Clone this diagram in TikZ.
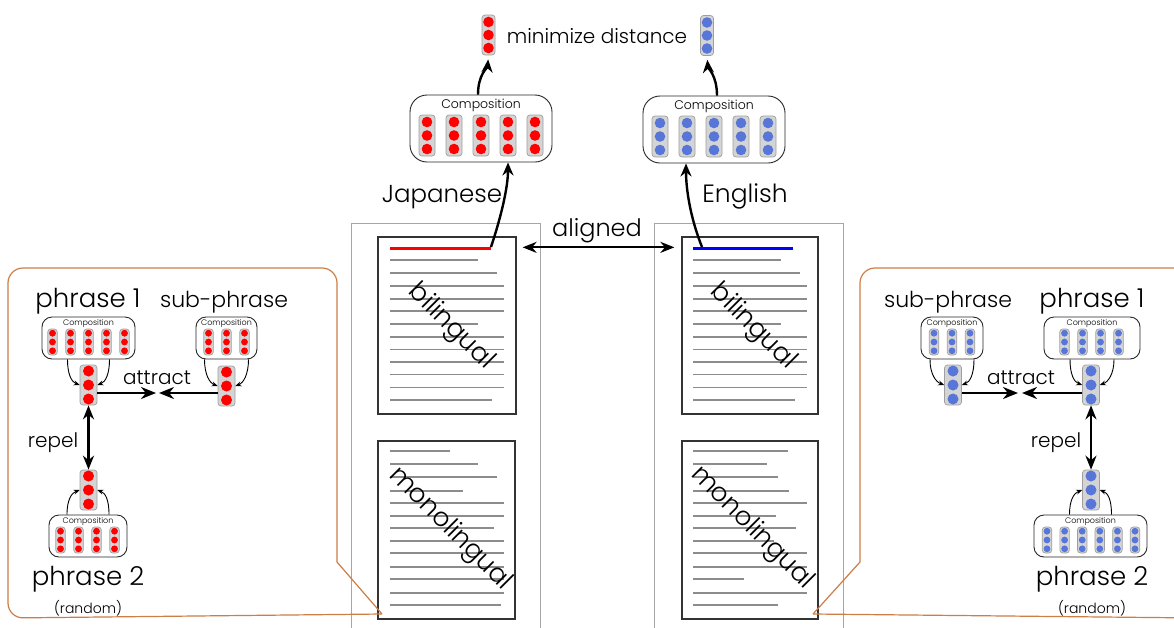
\documentclass[tikz,border=0pt]{standalone}
\usepackage{fontspec}
\setmainfont{Poppins Light}
\usetikzlibrary{arrows.meta,calc}
\definecolor{vred}{RGB}{255,0,0}
\definecolor{vblue}{RGB}{88,118,215}
\definecolor{vgray}{RGB}{212,212,212}
\definecolor{panelorange}{RGB}{205,125,70}
\newcommand{\myfs}[1]{\fontsize{#1}{#1}\selectfont}
% name, x, y, width, height, dot spacing, dot radius, colour
\newcommand{\vvec}[8]{%
  \node[vecbox, minimum width=#4pt, minimum height=#5pt] (#1) at (#2,#3) {};
  \foreach \k in {-1,0,1} \fill[#8] (#2,{#3+\k*#6}) circle (#7pt);
}
\tikzset{
  vecbox/.style={draw=gray!75, fill=vgray, rounded corners=3pt, inner sep=0pt, line width=0.7pt},
  compbox/.style={draw=black!85, fill=white, line width=0.9pt, inner sep=0pt},
  docbox/.style={draw=black!80, line width=1.3pt, inner sep=0pt},
  txtline/.style={draw=gray!90, line width=1.6pt},
  panelgray/.style={draw=gray!70, line width=0.8pt},
  panelline/.style={draw=panelorange, line width=1.2pt},
  thickarrow/.style={-{Stealth[length=13pt,width=11pt]}, line width=2.4pt},
  dblarrow/.style={{Stealth[length=14pt,width=11pt]}-{Stealth[length=14pt,width=11pt]}, line width=2.6pt},
  thinarrow/.style={-{Stealth[length=6pt,width=5pt]}, line width=0.9pt},
  lbl/.style={inner sep=0pt, anchor=base},
}
\begin{document}
\begin{tikzpicture}[x=1pt,y=-1pt]
\useasboundingbox (0,0) rectangle (1174,627);
\fill[white] (0,0) rectangle (1174,627);

% ---------- gray document panels ----------
\draw[panelgray] (351,640) -- (351,223) -- (540,223) -- (540,640);
\draw[panelgray] (654,640) -- (654,223) -- (843,223) -- (843,640);

% ---------- documents ----------
\node[docbox, minimum width=138pt, minimum height=177pt] (bil1) at (447,325.5) {};
\node[docbox, minimum width=137pt, minimum height=178pt] (mono1) at (446.5,530) {};
\node[docbox, minimum width=136pt, minimum height=177pt] (bil2) at (750,325.5) {};
\node[docbox, minimum width=136pt, minimum height=178pt] (mono2) at (750,530) {};

\foreach \y/\e in {260/478,272.7/497,286/504,298.7/504,311/504,323.7/478,336.7/504,349.3/504,361.7/504,374.3/504,387.3/504,400/492}
  \draw[txtline] (390,\y) -- (\e,\y);
\foreach \y/\e in {451/450,464/478,477/497,491/463,503/504,516/504,528/494,541/504,553/504,567/504,579/504,593/504,605/501}
  \draw[txtline] (390,\y) -- (\e,\y);
\foreach \y/\e in {260/781,272.7/800,286/807,298.7/807,311/807,323.7/781,336.7/807,349.3/807,361.7/807,374.3/807,387.3/807,400/795}
  \draw[txtline] (693,\y) -- (\e,\y);
\foreach \y/\e in {451/788,464/767,477/778,491/789,503/807,516/776,528/796,541/774,553/807,567/807,579/744,593/807,605/778}
  \draw[txtline] (693,\y) -- (\e,\y);

\draw[vred, line width=3pt] (390,248) -- (491,248);
\draw[blue, line width=3pt] (693,248) -- (793,248);
\coordinate (jline) at (491,247);
\coordinate (eline) at (702,247);

\node[rotate=-45, font=\myfs{26}, inner sep=0pt] (bt1) at (451,327) {bilingual};
\node[rotate=-45, font=\myfs{26}, inner sep=0pt] (mt1) at (450,529) {monolingual};
\node[rotate=-45, font=\myfs{26}, inner sep=0pt] (bt2) at (753,327) {bilingual};
\node[rotate=-45, font=\myfs{26}, inner sep=0pt] (mt2) at (752,528) {monolingual};

% ---------- top ----------
\vvec{jv}{488.5}{35}{13}{40}{13}{5.3}{vred}
\vvec{ev}{707}{35.5}{13}{40}{13}{5.3}{vblue}
\node[lbl, font=\myfs{20}] (mind) at (597,43) {minimize distance};

\node[compbox, rounded corners=17pt, minimum width=142pt, minimum height=67pt] (jc) at (481,128.5) {};
\node[lbl, font=\myfs{12.5}] (jcl) at (481,108) {Composition};
\foreach \xx in {427,454,481,508,535} {\vvec{}{\xx}{135.5}{16}{41}{13.5}{5.3}{vred}}
\node[compbox, rounded corners=17pt, minimum width=142pt, minimum height=67pt] (ec) at (714,129.5) {};
\node[lbl, font=\myfs{12.5}] (ecl) at (714,109) {Composition};
\foreach \xx in {660,687,714,741,768} {\vvec{}{\xx}{136.5}{16}{41}{13.5}{5.3}{vblue}}

\draw[thickarrow, shorten >=4pt] ([xshift=-3pt]jc.north) .. controls +(0,-20) and +(-1,12) .. (jv.south);
\draw[thickarrow, shorten >=4pt] ([xshift=3pt]ec.north) .. controls +(0,-20) and +(1,12) .. (ev.south);
\draw[thickarrow] (jline) .. controls +(10,-30) and +(0,25) .. ([xshift=27pt]jc.south);
\draw[thickarrow] (eline) .. controls +(-12,-30) and +(0,25) .. ([xshift=-28pt]ec.south);

\node[lbl, font=\myfs{24.5}] (jap) at (442,202) {Japanese};
\node[lbl, font=\myfs{25}] (eng) at (745,202) {English};
\node[lbl, font=\myfs{24}] (ali) at (597,236) {aligned};
\draw[dblarrow, line width=2.2pt] ($(bil1.north east)+(6,11)$) -- ($(bil2.north west)+(-7,11)$);

% ---------- orange callout panels ----------
\draw[panelline] (382,614) -- (337,562) [rounded corners=15pt] -- (337,268) -- (8,268) -- (8,618) [sharp corners] -- (382,614);
\draw[panelline] (813,614) -- (860,562) [rounded corners=15pt] -- (860,268) -- (1200,268);
\draw[panelline] (813,614) -- (1200,618);

% ---------- left panel ----------
\node[lbl, font=\myfs{26}] (lp1) at (88,307) {phrase 1};
\node[lbl, font=\myfs{22}] (lsp) at (224,307) {sub-phrase};
\node[compbox, rounded corners=10pt, minimum width=93pt, minimum height=42pt] (lp1c) at (88.5,338) {};
\node[lbl, font=\myfs{8}] at (88.5,325) {Composition};
\foreach \xx in {52.5,70.5,88.5,106.5,124.5} {\vvec{}{\xx}{342}{9.5}{26}{8.8}{3.4}{vred}}
\node[compbox, rounded corners=10pt, minimum width=61pt, minimum height=42pt] (lspc) at (226.5,338) {};
\node[lbl, font=\myfs{8}] at (226.5,325) {Composition};
\foreach \xx in {208.5,226.5,244.5} {\vvec{}{\xx}{342}{9.5}{26}{8.8}{3.4}{vred}}

\vvec{lp1v}{88.5}{385}{17}{40}{14}{5.5}{vred}
\vvec{lspv}{226.5}{386}{17}{40}{14}{5.5}{vred}
\vvec{lp2v}{88.5}{490}{17}{40}{14}{5.5}{vred}

\draw[thinarrow] ([xshift=-21pt]lp1c.south) .. controls +(0,15) and +(-8,-3) .. (lp1v.west);
\draw[thinarrow] ([xshift=21pt]lp1c.south) .. controls +(0,15) and +(8,-3) .. (lp1v.east);
\draw[thinarrow] ([xshift=-22pt]lspc.south) .. controls +(0,15) and +(-8,-3) .. (lspv.west);
\draw[thinarrow] ([xshift=22pt]lspc.south) .. controls +(0,15) and +(8,-3) .. (lspv.east);

\coordinate (latt1) at (156,393);
\coordinate (latt2) at (159,393);
\draw[thickarrow, -{Stealth[length=15pt,width=12pt]}] (lp1v.east |- latt1) -- (latt1);
\draw[thickarrow, -{Stealth[length=15pt,width=12pt]}] (lspv.west |- latt2) -- (latt2);
\node[lbl, font=\myfs{20}] (latt) at (157,384) {attract};
\draw[dblarrow] (lp1v.south) -- (lp2v.north);
\node[lbl, font=\myfs{20}] (lrep) at (53,447) {repel};

\node[compbox, rounded corners=10pt, minimum width=78pt, minimum height=42pt] (lp2c) at (88,536) {};
\node[lbl, font=\myfs{8}] at (88,523) {Composition};
\foreach \xx in {60.5,78.5,96.5,114.5} {\vvec{}{\xx}{540}{9.5}{26}{8.8}{3.4}{vred}}
\draw[thinarrow] ([xshift=-21pt]lp2c.north) .. controls +(0,-15) and +(-8,3) .. (lp2v.west);
\draw[thinarrow] ([xshift=21pt]lp2c.north) .. controls +(0,-15) and +(8,3) .. (lp2v.east);
\node[lbl, font=\myfs{26}] (lp2) at (88,585) {phrase 2};
\node[lbl, font=\myfs{14}] (lrnd) at (88,613) {(random)};

% ---------- right panel ----------
\node[lbl, font=\myfs{22}] (rsp) at (948,307) {sub-phrase};
\node[lbl, font=\myfs{26}] (rp1) at (1092,307) {phrase 1};
\node[compbox, rounded corners=10pt, minimum width=62pt, minimum height=42pt] (rspc) at (952,338) {};
\node[lbl, font=\myfs{8}] at (952,325) {Composition};
\foreach \xx in {934,952,970} {\vvec{}{\xx}{342}{9.5}{26}{8.8}{3.4}{vblue}}
\node[compbox, rounded corners=10pt, minimum width=96pt, minimum height=42pt] (rp1c) at (1092,338) {};
\node[lbl, font=\myfs{8}] at (1092,325) {Composition};
\foreach \xx in {1064.5,1082.5,1100.5,1118.5} {\vvec{}{\xx}{342}{9.5}{26}{8.8}{3.4}{vblue}}

\vvec{rspv}{953}{385}{17}{40}{14}{5.5}{vblue}
\vvec{rp1v}{1091}{385}{17}{40}{14}{5.5}{vblue}
\vvec{rp2v}{1091}{490}{17}{40}{14}{5.5}{vblue}

\draw[thinarrow] ([xshift=-22pt]rspc.south) .. controls +(0,15) and +(-8,-3) .. (rspv.west);
\draw[thinarrow] ([xshift=22pt]rspc.south) .. controls +(0,15) and +(8,-3) .. (rspv.east);
\draw[thinarrow] ([xshift=-22pt]rp1c.south) .. controls +(0,15) and +(-8,-3) .. (rp1v.west);
\draw[thinarrow] ([xshift=22pt]rp1c.south) .. controls +(0,15) and +(8,-3) .. (rp1v.east);

\coordinate (ratt1) at (1018,393);
\coordinate (ratt2) at (1022,393);
\draw[thickarrow, -{Stealth[length=15pt,width=12pt]}] (rspv.east |- ratt1) -- (ratt1);
\draw[thickarrow, -{Stealth[length=15pt,width=12pt]}] (rp1v.west |- ratt2) -- (ratt2);
\node[lbl, font=\myfs{20}] (ratt) at (1021,384) {attract};
\draw[dblarrow] (rp1v.south) -- (rp2v.north);
\node[lbl, font=\myfs{20}] (rrep) at (1056,447) {repel};

\node[compbox, rounded corners=10pt, minimum width=113pt, minimum height=42pt] (rp2c) at (1090.5,536) {};
\node[lbl, font=\myfs{8}] at (1090.5,523) {Composition};
\foreach \xx in {1047,1064.6,1082.2,1099.8,1117.4,1135} {\vvec{}{\xx}{540}{9.5}{26}{8.8}{3.4}{vblue}}
\draw[thinarrow] ([xshift=-21pt]rp2c.north) .. controls +(0,-15) and +(-8,3) .. (rp2v.west);
\draw[thinarrow] ([xshift=21pt]rp2c.north) .. controls +(0,-15) and +(8,3) .. (rp2v.east);
\node[lbl, font=\myfs{26}] (rp2) at (1092,585) {phrase 2};
\node[lbl, font=\myfs{14}] (rrnd) at (1092,613) {(random)};
\end{tikzpicture}
\end{document}
